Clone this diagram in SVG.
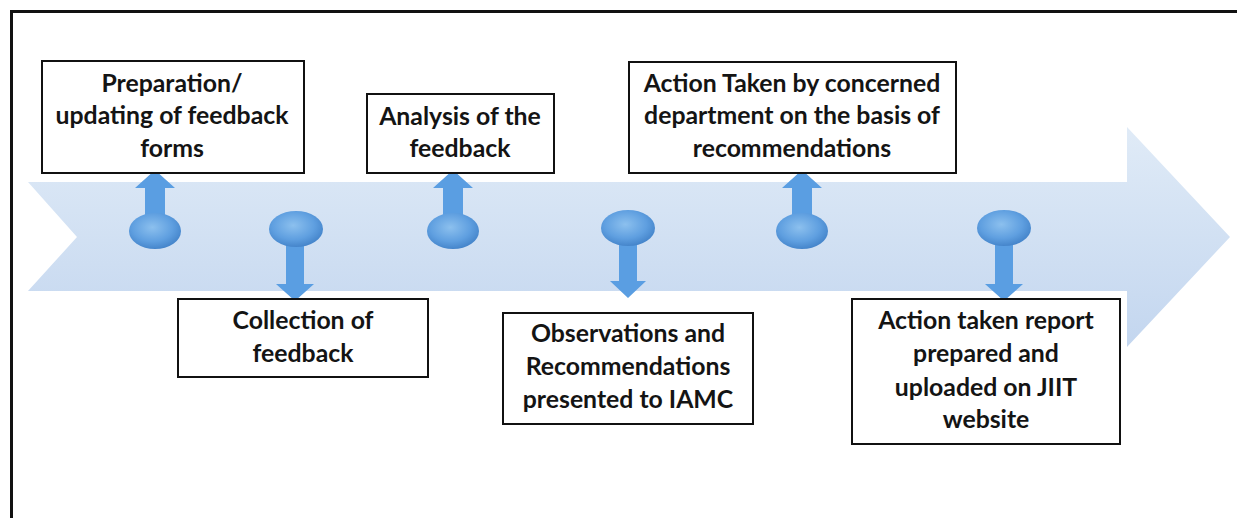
<svg xmlns="http://www.w3.org/2000/svg" width="1237" height="518" viewBox="0 0 1237 518">
<defs>
<linearGradient id="band" x1="0" y1="0" x2="0" y2="1">
<stop offset="0" stop-color="#e0ebf7"/>
<stop offset="1" stop-color="#c3d6ef"/>
</linearGradient>
<radialGradient id="knob" cx="0.45" cy="0.4" r="0.65">
<stop offset="0" stop-color="#8cc0ee"/>
<stop offset="0.6" stop-color="#5f9fe0"/>
<stop offset="1" stop-color="#3f7fc6"/>
</radialGradient>
<style>
.box{fill:#ffffff;stroke:#111111;stroke-width:2}
.lbl{font-family:Lato,"Liberation Sans",sans-serif;font-weight:bold;font-size:24.8px;fill:#141414;text-anchor:middle}
.stem{fill:#5a9ee2}
.knob{fill:url(#knob)}
</style>
</defs>
<rect x="0" y="0" width="1237" height="518" fill="#ffffff"/>
<path d="M11.5,518 V11.5 H1237" fill="none" stroke="#111111" stroke-width="3"/>
<polygon id="timeline" points="28,182 1127,182 1127,127 1230,237 1127,347 1127,291 28,291 77,237" fill="url(#band)"/>
<g id="connectors">
<g id="pin1"><path class="stem" d="M145,230 V188 H135 L155,170 L175,188 H165 V230 Z"/><ellipse class="knob" cx="155" cy="231" rx="26" ry="18"/></g>
<g id="pin2"><path class="stem" d="M286,229 V284 H276 L295,301 L314,284 H304 V229 Z"/><ellipse class="knob" cx="296" cy="229" rx="27" ry="18"/></g>
<g id="pin3"><path class="stem" d="M443,230 V188 H433 L453,170 L473,188 H463 V230 Z"/><ellipse class="knob" cx="453" cy="231" rx="26" ry="18"/></g>
<g id="pin4"><path class="stem" d="M619,229 V281 H610 L628,298 L646,281 H637 V229 Z"/><ellipse class="knob" cx="628" cy="228" rx="27" ry="18"/></g>
<g id="pin5"><path class="stem" d="M792,230 V188 H782 L802,170 L822,188 H812 V230 Z"/><ellipse class="knob" cx="802" cy="231" rx="26" ry="18"/></g>
<g id="pin6"><path class="stem" d="M995,229 V284 H985 L1004,301 L1023,284 H1013 V229 Z"/><ellipse class="knob" cx="1004" cy="228" rx="27" ry="18"/></g>
</g>
<g id="node1"><rect class="box" x="42" y="61" width="262" height="112"/>
<text class="lbl" x="172" y="92">Preparation/</text><text class="lbl" x="172" y="124">updating of feedback</text><text class="lbl" x="172" y="157">forms</text></g>
<g id="node2"><rect class="box" x="178" y="299" width="250" height="78"/>
<text class="lbl" x="303" y="329">Collection of</text><text class="lbl" x="303" y="362">feedback</text></g>
<g id="node3"><rect class="box" x="367" y="94" width="187" height="79"/>
<text class="lbl" x="460" y="125">Analysis of the</text><text class="lbl" x="460" y="157">feedback</text></g>
<g id="node4"><rect class="box" x="503" y="313" width="250" height="111"/>
<text class="lbl" x="628" y="342">Observations and</text><text class="lbl" x="628" y="375">Recommendations</text><text class="lbl" x="628" y="408">presented to IAMC</text></g>
<g id="node5"><rect class="box" x="629" y="62" width="327" height="111"/>
<text class="lbl" x="792" y="92">Action Taken by concerned</text><text class="lbl" x="792" y="124">department on the basis of</text><text class="lbl" x="792" y="157">recommendations</text></g>
<g id="node6"><rect class="box" x="852" y="299" width="268" height="145"/>
<text class="lbl" x="986" y="329">Action taken report</text><text class="lbl" x="986" y="362">prepared and</text><text class="lbl" x="986" y="396">uploaded on JIIT</text><text class="lbl" x="986" y="428">website</text></g>
</svg>
